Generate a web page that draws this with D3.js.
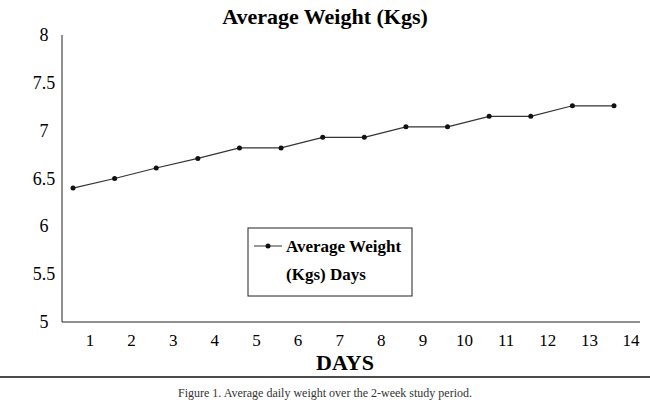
<!DOCTYPE html>
<html><head><meta charset="utf-8">
<script src="https://cdn.jsdelivr.net/npm/d3@7"></script>
<style>body{margin:0;background:#fff}text{font-family:"Liberation Serif",serif}</style>
</head><body><svg id="chart" width="650" height="412"></svg>
<script>
// chart data
const days = [1,2,3,4,5,6,7,8,9,10,11,12,13,14];
const weights = [6.4,6.5,6.61,6.71,6.82,6.82,6.93,6.93,7.04,7.04,7.15,7.15,7.26,7.26];
const yTicks = [5,5.5,6,6.5,7,7.5,8];

const svg = d3.select("#chart");

const x = d3.scalePoint().domain(days).range([73, 614]);
const y = d3.scaleLinear().domain([5, 8]).range([322, 35]);

// title
svg.append("text").attr("x", 325).attr("y", 24).attr("text-anchor", "middle")
  .attr("font-size", 22).attr("font-weight", "bold").text("Average Weight (Kgs)");

// y axis
svg.append("line").attr("x1", 62).attr("x2", 62).attr("y1", 35).attr("y2", 322).attr("stroke", "#222");
svg.selectAll(".yt").data(yTicks).enter().append("text")
  .attr("x", 44).attr("y", d => y(d) + 6).attr("text-anchor", "middle")
  .attr("font-size", 18).text(d => d);

// x axis
svg.append("line").attr("x1", 62).attr("x2", 640).attr("y1", 322).attr("y2", 322).attr("stroke", "#222");
svg.selectAll(".xt").data(days).enter().append("text")
  .attr("x", d => x(d) + 17).attr("y", 346).attr("text-anchor", "middle")
  .attr("font-size", 17).text(d => d);

svg.append("text").attr("x", 345).attr("y", 370).attr("text-anchor", "middle")
  .attr("font-size", 22).attr("font-weight", "bold").text("DAYS");

// line + markers
const line = d3.line().x((d, i) => x(days[i])).y(d => y(d));
svg.append("path").datum(weights).attr("d", line).attr("fill", "none").attr("stroke", "#333").attr("stroke-width", 1.2);
svg.selectAll(".pt").data(weights).enter().append("circle")
  .attr("cx", (d, i) => x(days[i])).attr("cy", d => y(d)).attr("r", 2.5).attr("fill", "#111");

// legend
const lg = svg.append("g");
lg.append("rect").attr("x", 248).attr("y", 228).attr("width", 164).attr("height", 68)
  .attr("fill", "#fff").attr("stroke", "#222");
lg.append("line").attr("x1", 254).attr("x2", 282).attr("y1", 246).attr("y2", 246).attr("stroke", "#333");
lg.append("circle").attr("cx", 268).attr("cy", 246).attr("r", 2.5).attr("fill", "#111");
lg.append("text").attr("x", 286).attr("y", 252).attr("font-size", 17).attr("font-weight", "bold").text("Average Weight");
lg.append("text").attr("x", 286).attr("y", 280).attr("font-size", 17).attr("font-weight", "bold").text("(Kgs) Days");

// rule + caption
svg.append("line").attr("x1", 0).attr("x2", 650).attr("y1", 377).attr("y2", 377).attr("stroke", "#111").attr("stroke-width", 1.5);
svg.append("text").attr("x", 325).attr("y", 397).attr("text-anchor", "middle")
  .attr("font-size", 12).attr("fill", "#333").text("Figure 1. Average daily weight over the 2-week study period.");
</script></body></html>
